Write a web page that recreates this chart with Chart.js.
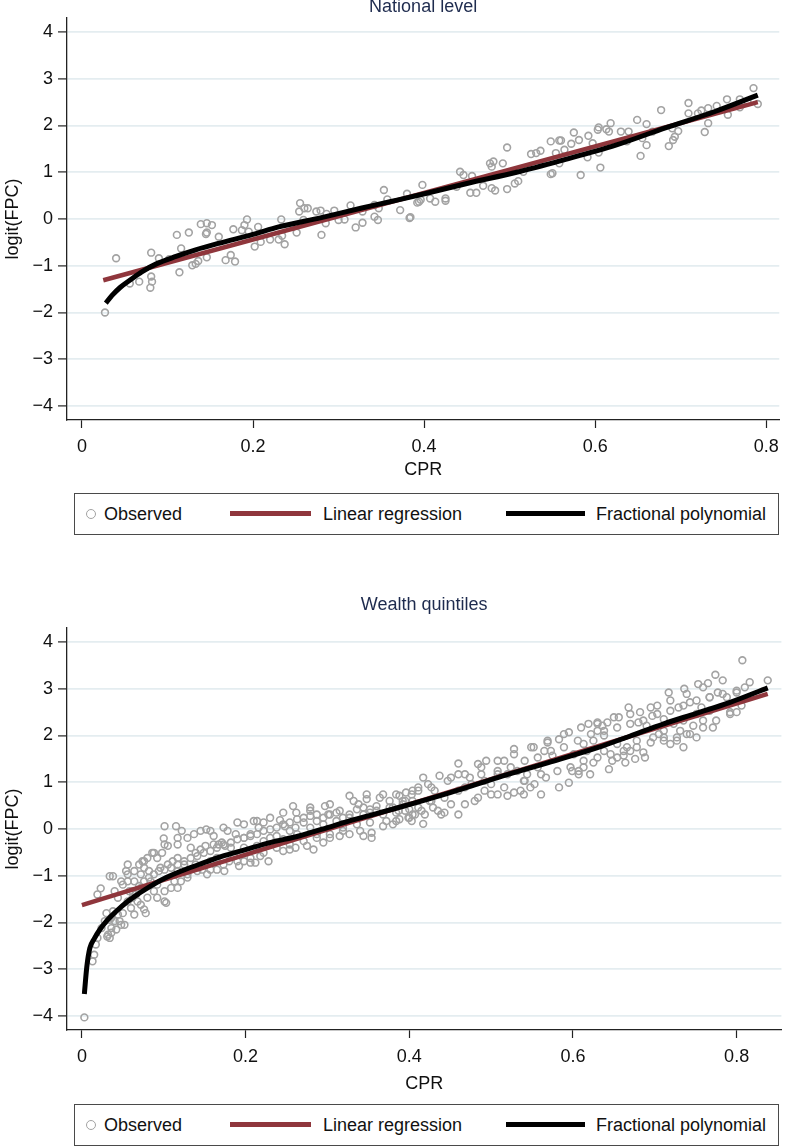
<!DOCTYPE html>
<html>
<head>
<meta charset="utf-8">
<script src="https://cdn.jsdelivr.net/npm/chart.js@4/dist/chart.umd.min.js"></script>
<style>
html,body{margin:0;padding:0;background:#fff;width:787px;height:1148px;overflow:hidden;position:relative;font-family:"Liberation Sans",Arial,sans-serif;}
canvas{position:absolute;left:0;}
#c1{top:-4px;}
#c2{top:594px;}
.legend{position:absolute;left:74px;width:705px;height:42px;border:1.5px solid #4a4a4a;box-sizing:border-box;background:#fff;}
.legend .t{position:absolute;top:50%;transform:translateY(-52%);font-size:18px;color:#111;white-space:nowrap;line-height:1;}
.legend .circ{position:absolute;top:50%;left:11px;width:8px;height:8px;margin-top:-5px;border:1.6px solid #a3a3a3;border-radius:50%;box-sizing:content-box;}
.legend .ln{position:absolute;top:50%;height:5px;margin-top:-3px;}
</style>
</head>
<body>
<canvas id="c1" width="787" height="492"></canvas>
<canvas id="c2" width="787" height="506"></canvas>

<div class="legend" style="top:493px;">
  <div class="circ"></div><span class="t" style="left:29px;">Observed</span>
  <div class="ln" style="left:155px;width:81px;background:#8f363c;"></div><span class="t" style="left:248px;">Linear regression</span>
  <div class="ln" style="left:431px;width:79px;background:#000;"></div><span class="t" style="left:521px;">Fractional polynomial</span>
</div>
<div class="legend" style="top:1104px;">
  <div class="circ"></div><span class="t" style="left:29px;">Observed</span>
  <div class="ln" style="left:155px;width:81px;background:#8f363c;"></div><span class="t" style="left:248px;">Linear regression</span>
  <div class="ln" style="left:431px;width:79px;background:#000;"></div><span class="t" style="left:521px;">Fractional polynomial</span>
</div>

<script>
// ---------- tick labels ----------
const xTicks = [0, 0.2, 0.4, 0.6, 0.8];
const xTickLabels = ['0', '0.2', '0.4', '0.6', '0.8'];
const yTicks = [-4, -3, -2, -1, 0, 1, 2, 3, 4];
const yTickLabels = ['\u22124', '\u22123', '\u22122', '\u22121', '0', '1', '2', '3', '4'];

// ---------- National level ----------
const natObserved = [
[0.027,-2.0],[0.040,-0.84],[0.056,-1.38],[0.067,-1.34],[0.081,-0.72],[0.090,-0.84],[0.081,-1.23],[0.082,-1.34],
[0.080,-1.47],[0.102,-0.86],[0.111,-0.34],[0.114,-1.14],[0.116,-0.63],[0.125,-0.29],[0.129,-0.99],[0.133,-0.96],
[0.136,-0.90],[0.139,-0.11],[0.146,-0.09],[0.152,-0.13],[0.145,-0.32],[0.146,-0.29],[0.146,-0.82],[0.160,-0.38],
[0.168,-0.88],[0.174,-0.77],[0.179,-0.91],[0.177,-0.22],[0.187,-0.24],[0.190,-0.13],[0.193,-0.01],[0.195,-0.27],
[0.206,-0.17],[0.202,-0.59],[0.209,-0.49],[0.220,-0.44],[0.230,-0.44],[0.234,-0.36],[0.237,-0.54],[0.233,-0.01],
[0.251,-0.29],[0.255,0.34],[0.254,0.16],[0.260,0.23],[0.264,0.23],[0.259,-0.02],[0.274,0.16],[0.279,0.18],
[0.286,0.11],[0.285,-0.09],[0.280,-0.34],[0.295,0.18],[0.300,-0.02],[0.307,-0.01],[0.314,0.29],[0.320,-0.18],
[0.328,-0.08],[0.328,0.16],[0.342,0.30],[0.342,0.05],[0.346,-0.02],[0.347,0.23],[0.353,0.62],[0.357,0.42],
[0.372,0.19],[0.383,0.02],[0.380,0.54],[0.392,0.35],[0.396,0.41],[0.398,0.73],[0.394,0.37],[0.407,0.44],
[0.413,0.37],[0.425,0.44],[0.425,0.39],[0.384,0.04],[0.442,1.01],[0.446,0.94],[0.456,0.92],[0.438,0.69],
[0.454,0.56],[0.461,0.56],[0.469,0.71],[0.479,0.66],[0.483,0.61],[0.477,1.19],[0.481,1.23],[0.479,1.12],
[0.492,1.19],[0.497,1.53],[0.497,0.64],[0.506,0.76],[0.510,0.81],[0.516,1.01],[0.525,1.39],[0.531,1.41],
[0.536,1.46],[0.548,0.96],[0.550,0.98],[0.548,1.66],[0.558,1.68],[0.560,1.68],[0.572,1.61],[0.554,1.41],
[0.558,1.19],[0.564,1.48],[0.575,1.85],[0.581,1.69],[0.592,1.78],[0.597,1.62],[0.604,1.96],[0.603,1.91],
[0.613,1.92],[0.618,2.05],[0.583,0.94],[0.591,1.32],[0.604,1.42],[0.606,1.10],[0.616,1.87],[0.630,1.87],
[0.639,1.87],[0.637,1.66],[0.649,2.12],[0.660,2.03],[0.655,1.73],[0.660,1.58],[0.667,1.87],[0.653,1.35],
[0.677,2.33],[0.686,1.56],[0.691,1.69],[0.693,1.76],[0.697,1.88],[0.690,1.94],[0.709,2.48],[0.709,2.26],
[0.720,2.26],[0.724,2.32],[0.728,1.86],[0.732,2.05],[0.732,2.37],[0.742,2.42],[0.754,2.56],[0.755,2.23],
[0.769,2.56],[0.769,2.39],[0.778,2.51],[0.785,2.80],[0.790,2.46]
];
const natLinearX = [0.025, 0.79];
const natLinearY = [-1.31, 2.50];
const natFracX = [0.028,0.035,0.045,0.056,0.07,0.087,0.11,0.133,0.16,0.2,0.23,0.28,0.326,0.36,0.403,0.45,0.508,0.56,0.624,0.682,0.74,0.79];
const natFracY = [-1.80,-1.64,-1.46,-1.31,-1.13,-0.96,-0.80,-0.66,-0.52,-0.33,-0.17,0.03,0.23,0.37,0.55,0.76,1.0,1.25,1.58,1.95,2.30,2.65];

// ---------- Wealth quintiles ----------
const wqObserved = [
[0.003,-4.03],[0.013,-2.83],[0.015,-2.69],[0.017,-2.47],[0.019,-2.33],[0.024,-2.12],[0.028,-1.97],[0.032,-2.26],
[0.034,-2.33],[0.036,-2.22],[0.030,-1.80],[0.036,-1.90],[0.040,-1.97],[0.044,-1.83],[0.048,-2.05],[0.034,-1.01],
[0.038,-1.01],[0.023,-1.27],[0.019,-1.40],[0.048,-1.12],[0.054,-0.90],[0.056,-1.12],[0.058,-1.33],[0.062,-1.47],
[0.066,-1.40],[0.060,-1.69],[0.070,-0.76],[0.074,-0.69],[0.080,-0.62],[0.086,-0.51],[0.092,-0.62],[0.098,-0.51],
[0.101,-0.33],[0.100,-0.20],[0.101,0.06],[0.115,0.06],[0.122,-0.04],[0.105,-0.36],[0.111,-0.69],[0.117,-0.62],
[0.101,-1.55],[0.103,-1.58],[0.076,-1.72],[0.068,-1.55],[0.080,-1.47],[0.072,-1.26],[0.084,-1.12],[0.092,-1.19],
[0.088,-1.33],[0.109,-1.26],[0.117,-1.26],[0.121,-1.12],[0.125,-0.76],[0.133,-0.40],[0.139,-0.51],[0.145,-0.44],
[0.151,-0.36],[0.147,-0.87],[0.153,-0.97],[0.152,-0.01],[0.161,-0.33],[0.167,-0.33],[0.171,-0.29],[0.175,-0.36],
[0.165,-0.87],[0.174,-0.90],[0.180,-0.69],[0.186,-0.58],[0.190,0.14],[0.188,-0.11],[0.198,-0.19],[0.206,-0.11],
[0.210,0.17],[0.216,0.03],[0.222,0.14],[0.192,-0.79],[0.198,-0.69],[0.206,-0.72],[0.212,-0.72],[0.218,-0.58],
[0.228,-0.69],[0.222,-0.26],[0.230,-0.19],[0.238,-0.15],[0.242,0.19],[0.248,0.06],[0.254,-0.04],[0.261,0.03],
[0.246,-0.47],[0.254,-0.44],[0.261,-0.40],[0.275,-0.36],[0.283,-0.44],[0.258,0.49],[0.262,0.35],[0.271,0.14],
[0.279,0.39],[0.287,0.31],[0.297,0.49],[0.301,0.31],[0.287,-0.11],[0.295,-0.29],[0.303,-0.19],[0.315,-0.15],
[0.319,-0.04],[0.327,-0.11],[0.340,-0.04],[0.344,-0.15],[0.354,-0.19],[0.354,-0.08],[0.315,0.39],[0.327,0.71],
[0.338,0.53],[0.348,0.64],[0.352,0.42],[0.364,0.67],[0.376,0.60],[0.384,0.74],[0.396,0.78],[0.404,0.82],
[0.372,0.17],[0.380,0.10],[0.388,0.21],[0.400,0.24],[0.404,0.31],
[0.040,-1.33],[0.044,-1.47],[0.050,-1.19],[0.056,-0.97],[0.064,-1.12],[0.072,-0.97],[0.076,-0.83],[0.082,-0.90],
[0.096,-0.83],[0.105,-0.76],[0.117,-0.90],[0.129,-0.97],[0.139,-0.76],[0.157,-0.69],[0.165,-0.62],[0.182,-0.40],
[0.198,-0.40],[0.214,-0.36],[0.230,-0.33],[0.246,-0.22],[0.263,-0.11],[0.279,0.03],[0.295,0.10],[0.311,0.17],
[0.327,0.24],[0.344,0.31],[0.360,0.39],[0.380,0.46],[0.392,0.53],[0.404,0.60],[0.117,-0.19],[0.137,-0.11],
[0.157,-0.04],[0.173,0.03],
[0.031,-2.30],[0.036,-2.12],[0.042,-2.15],[0.046,-1.97],[0.050,-1.80],[0.038,-1.76],[0.034,-1.94],[0.056,-1.55],
[0.062,-1.33],[0.070,-1.22],[0.076,-1.12],[0.082,-1.04],[0.088,-0.97],[0.094,-0.90],[0.101,-0.87],[0.109,-0.83],
[0.117,-0.76],[0.125,-0.69],[0.133,-0.62],[0.141,-0.58],[0.149,-0.51],[0.157,-0.47],[0.165,-0.40],[0.173,-0.33],
[0.182,-0.29],[0.190,-0.22],[0.198,-0.19],[0.206,-0.15],[0.214,-0.11],[0.222,-0.04],[0.230,-0.01],[0.238,0.03],
[0.246,0.10],[0.254,0.14],[0.263,0.21],[0.271,0.24],[0.279,0.28],[0.287,0.17],[0.295,0.24],[0.303,0.31],
[0.311,0.35],[0.319,0.24],[0.327,0.31],[0.336,0.42],[0.344,0.46],[0.352,0.35],[0.360,0.49],[0.368,0.31],
[0.376,0.46],[0.384,0.35],[0.392,0.60],[0.400,0.42],
[0.064,-1.83],[0.072,-1.62],[0.078,-1.80],[0.052,-2.05],[0.092,-1.47],[0.101,-1.33],[0.113,-1.12],[0.129,-1.04],
[0.141,-0.90],[0.157,-0.87],[0.173,-0.76],[0.190,-0.69],[0.206,-0.62],[0.222,-0.51],[0.238,-0.40],[0.254,-0.33],
[0.271,-0.26],[0.287,-0.19],[0.303,-0.11],[0.319,0.03],[0.336,0.10],[0.352,0.14],[0.368,0.06],[0.384,0.17],
[0.056,-0.76],[0.064,-0.90],[0.076,-0.69],[0.088,-0.51],[0.117,-0.33],[0.129,-0.19],[0.145,-0.04],[0.161,-0.15],
[0.178,-0.04],[0.198,0.10],[0.214,0.17],[0.230,0.24],[0.246,0.35],[0.279,0.46],[0.303,0.53],[0.332,0.60],
[0.348,0.74],[0.368,0.74],[0.388,0.71],
[0.387,0.39],[0.395,0.60],[0.403,0.74],[0.411,0.89],[0.417,1.10],[0.423,0.96],[0.431,0.82],[0.399,0.24],
[0.407,0.31],[0.415,0.39],[0.417,0.11],[0.425,0.60],[0.429,0.46],[0.437,1.14],[0.439,0.31],[0.443,0.35],
[0.451,0.53],[0.451,1.10],[0.460,1.17],[0.460,0.31],[0.460,1.40],[0.468,0.89],[0.474,1.10],[0.480,0.60],
[0.484,1.39],[0.488,1.17],[0.494,1.46],[0.492,0.82],[0.500,0.96],[0.508,0.74],[0.508,1.24],[0.516,1.46],
[0.520,0.71],[0.528,0.78],[0.528,1.71],[0.536,0.82],[0.540,1.03],[0.544,1.17],[0.548,0.89],[0.552,1.75],
[0.557,1.32],[0.565,1.67],[0.567,1.10],[0.569,1.85],[0.575,1.57],[0.583,1.92],[0.583,0.89],[0.595,2.07],
[0.595,0.99],[0.599,1.24],[0.601,1.60],[0.607,1.24],[0.607,1.17],[0.613,1.82],[0.621,1.17],[0.619,2.25],
[0.625,1.42],[0.630,2.28],[0.630,2.10],[0.636,2.21],[0.638,2.00],[0.642,2.28],[0.644,1.28],[0.648,1.46],
[0.654,1.53],[0.656,2.39],[0.662,1.57],[0.664,1.42],[0.668,2.60],[0.670,1.67],[0.676,1.50],[0.680,2.28],
[0.682,2.50],[0.686,1.64],[0.688,1.53],[0.690,2.21],[0.697,2.42],[0.703,2.64],[0.705,2.03],[0.711,2.35],
[0.711,1.96],[0.717,2.92],[0.719,1.82],[0.727,1.89],[0.729,2.60],[0.731,2.10],[0.735,1.75],[0.736,3.00],
[0.739,2.03],[0.743,2.71],[0.747,2.21],[0.751,1.96],[0.753,3.10],[0.757,2.60],[0.759,2.32],[0.765,3.12],
[0.767,2.82],[0.771,2.17],[0.774,3.30],[0.777,2.92],[0.788,2.82],[0.792,2.50],[0.800,2.50],[0.800,2.92],
[0.806,2.64],[0.807,3.61],[0.810,3.03],[0.816,3.14],[0.838,3.18],
[0.520,1.17],[0.532,1.24],[0.540,0.74],[0.553,0.96],[0.561,0.74],[0.613,1.32],[0.617,1.67],[0.625,1.89],
[0.638,1.67],[0.654,1.82],[0.666,1.75],[0.678,1.89],[0.698,1.96],[0.711,2.10],[0.723,2.25],[0.735,2.32],
[0.751,2.46],[0.767,2.53],
[0.395,0.39],[0.411,0.46],[0.427,0.60],[0.443,0.67],[0.460,0.82],[0.476,0.96],[0.492,1.03],[0.508,1.17],
[0.524,1.32],[0.541,1.46],[0.557,1.53],[0.573,1.67],[0.589,1.75],[0.606,1.89],[0.622,2.03],[0.638,2.10],
[0.654,2.17],[0.670,2.25],[0.686,2.32],[0.703,2.46],[0.719,2.53],[0.735,2.64],[0.751,2.75],[0.767,2.82],
[0.783,2.89],[0.800,2.96],
[0.403,0.17],[0.419,0.31],[0.435,0.39],[0.468,0.53],[0.484,0.67],[0.500,0.74],[0.516,0.89],[0.541,1.03],
[0.561,1.17],[0.581,1.24],[0.597,1.32],[0.613,1.46],[0.630,1.53],[0.646,1.60],[0.662,1.67],[0.678,1.75],
[0.695,1.85],[0.711,1.89],[0.727,1.96],[0.743,2.03],[0.759,2.17],[0.775,2.32],[0.792,2.46],
[0.411,0.82],[0.427,0.89],[0.447,1.03],[0.468,1.17],[0.488,1.32],[0.508,1.46],[0.528,1.60],[0.549,1.75],
[0.569,1.89],[0.589,2.03],[0.610,2.17],[0.630,2.25],[0.650,2.39],[0.670,2.46],[0.695,2.60],[0.719,2.75],
[0.739,2.89],[0.759,3.03],[0.783,3.18]
];
const wqLinearX = [0.0, 0.838];
const wqLinearY = [-1.63, 2.89];
const wqFracX = [0.003,0.006,0.0097,0.015,0.022,0.03,0.042,0.055,0.0705,0.085,0.103,0.12,0.143,0.17,0.2,0.23,0.265,0.3,0.326,0.36,0.387,0.45,0.508,0.57,0.63,0.67,0.711,0.75,0.792,0.838];
const wqFracY = [-3.53,-2.95,-2.55,-2.35,-2.15,-1.97,-1.76,-1.56,-1.37,-1.21,-1.04,-0.91,-0.76,-0.59,-0.44,-0.29,-0.15,0.03,0.17,0.33,0.46,0.78,1.10,1.42,1.74,1.99,2.25,2.47,2.71,3.02];

// ---------- rendering ----------
const FONT = '"Liberation Sans", Arial, Helvetica, sans-serif';
Chart.defaults.font.family = FONT;

const zip = (xs, ys) => xs.map((x, i) => ({x: x, y: ys[i]}));

function build(canvasId, cfg) {
  const ctx = document.getElementById(canvasId).getContext('2d');
  return new Chart(ctx, {
    type: 'scatter',
    data: {
      datasets: [
        {
          label: 'Observed',
          data: cfg.observed.map(p => ({x: p[0], y: p[1]})),
          showLine: false,
          pointStyle: 'circle',
          pointRadius: 3.4,
          pointBorderWidth: 1.6,
          pointBorderColor: '#a3a3a3',
          pointBackgroundColor: 'rgba(255,255,255,0)',
          order: 3
        },
        {
          label: 'Linear regression',
          type: 'line',
          data: zip(cfg.linX, cfg.linY),
          borderColor: '#8f363c',
          borderWidth: 4.5,
          pointRadius: 0,
          fill: false,
          order: 2
        },
        {
          label: 'Fractional polynomial',
          type: 'line',
          data: zip(cfg.fpX, cfg.fpY),
          borderColor: '#000000',
          borderWidth: 5,
          pointRadius: 0,
          fill: false,
          cubicInterpolationMode: 'monotone',
          borderCapStyle: 'butt',
          order: 1
        }
      ]
    },
    options: {
      responsive: false,
      animation: false,
      devicePixelRatio: 1,
      layout: {padding: {left: 0, right: 2, top: 0, bottom: 0}},
      plugins: {
        legend: {display: false},
        tooltip: {enabled: false},
        title: {
          display: true,
          text: cfg.title,
          color: '#1e2b4e',
          fullSize: false,
          font: {family: FONT, size: 18, weight: 'normal', lineHeight: 1.2},
          padding: {top: 0, bottom: cfg.titlePad}
        }
      },
      scales: {
        x: {
          type: 'linear',
          min: cfg.xMin,
          max: cfg.xMax,
          afterBuildTicks: s => { s.ticks = xTicks.map(v => ({value: v})); },
          afterFit: s => { s.height = cfg.xHeight; },
          ticks: {
            color: '#111',
            font: {family: FONT, size: 18},
            padding: 8,
            maxRotation: 0,
            callback: v => xTickLabels[xTicks.indexOf(v)]
          },
          grid: {drawOnChartArea: false, drawTicks: true, tickLength: 8, tickColor: '#222', tickWidth: 1.2},
          border: {display: true, color: '#222', width: 1.3},
          title: {display: true, text: 'CPR', color: '#111', font: {family: FONT, size: 18, lineHeight: 1.2}, padding: {top: 0, bottom: cfg.xTitlePad}}
        },
        y: {
          type: 'linear',
          min: -4.3,
          max: 4.3,
          afterBuildTicks: s => { s.ticks = yTicks.map(v => ({value: v})); },
          afterFit: s => { s.width = 67; },
          ticks: {
            color: '#111',
            font: {family: FONT, size: 18},
            padding: 5,
            callback: v => yTickLabels[yTicks.indexOf(v)]
          },
          grid: {color: '#e4edf0', lineWidth: 1.8, drawTicks: true, tickLength: 9, tickColor: '#222', tickWidth: 1.2},
          border: {display: true, color: '#222', width: 1.3},
          title: {display: true, text: 'logit(FPC)', color: '#111', font: {family: FONT, size: 18, lineHeight: 1.2}, padding: {top: 2, bottom: 0}}
        }
      }
    }
  });
}

build('c1', {
  title: 'National level', titlePad: 0.4,
  observed: natObserved, linX: natLinearX, linY: natLinearY, fpX: natFracX, fpY: natFracY,
  xMin: -0.0174, xMax: 0.8151, xHeight: 68, xTitlePad: 7
});
build('c2', {
  title: 'Wealth quintiles', titlePad: 12.4,
  observed: wqObserved, linX: wqLinearX, linY: wqLinearY, fpX: wqFracX, fpY: wqFracY,
  xMin: -0.0182, xMax: 0.8547, xHeight: 70, xTitlePad: 5.2
});
</script>
</body>
</html>
